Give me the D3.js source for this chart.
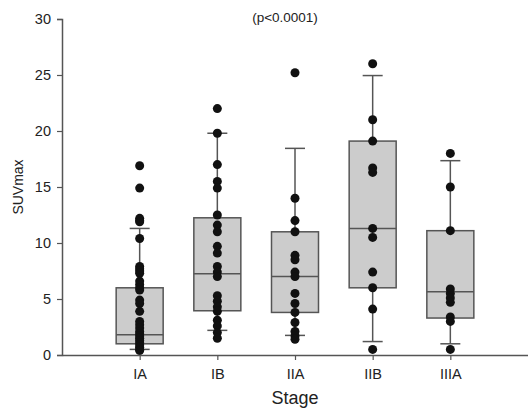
<!DOCTYPE html>
<html>
<head>
<meta charset="utf-8">
<script src="https://cdn.jsdelivr.net/npm/d3@7"></script>
<style>
  body { margin: 0; background: #fff; }
  #chart { width: 528px; height: 408px; }
  text { font-family: "Liberation Sans", Arial, sans-serif; fill: #222; }
</style>
</head>
<body>
<div id="chart"></div>
<script>
// Stages along the x axis
const stages = ['IA', 'IB', 'IIA', 'IIB', 'IIIA'];

// Individual SUVmax values per stage
const valuesIA = [16.9, 14.9, 12.2, 12.0, 11.9, 10.4, 7.9, 7.7, 7.5, 7.3, 6.6, 6.3, 6.0, 5.8,
  4.9, 4.6, 3.9, 3.0, 2.7, 2.4, 2.1, 1.9, 1.7, 1.5, 1.3, 1.1, 0.9, 0.7, 0.5, 0.4];
const valuesIB = [22.0, 19.8, 17.0, 15.5, 14.9, 12.5, 11.6, 11.0, 9.7, 9.1, 7.9, 7.4, 7.0,
  5.3, 4.8, 4.3, 3.9, 3.1, 2.6, 2.0, 1.5];
const valuesIIA = [25.2, 14.0, 12.0, 11.0, 8.9, 8.5, 7.4, 7.0, 5.5, 4.6, 3.8, 2.9, 2.1, 1.7, 1.4];
const valuesIIB = [26.0, 21.0, 19.1, 16.7, 16.3, 11.3, 10.5, 7.4, 6.0, 4.1, 0.5];
const valuesIIIA = [18.0, 15.0, 11.1, 5.9, 5.5, 5.1, 4.7, 3.4, 3.0, 0.5];

// Box statistics (whiskers = 10th / 90th percentiles)
const whiskerLow = [0.5, 2.2, 1.75, 1.2, 1.0];
const q1 = [1.0, 3.95, 3.8, 6.0, 3.3];
const medians = [1.8, 7.25, 7.0, 11.3, 5.65];
const q3 = [6.0, 12.25, 11.0, 19.1, 11.1];
const whiskerHigh = [11.3, 19.8, 18.45, 24.95, 17.35];

const yTicks = [0, 5, 10, 15, 20, 25, 30];
const pLabel = '(p<0.0001)';

const allValues = [valuesIA, valuesIB, valuesIIA, valuesIIB, valuesIIIA];

const width = 528, height = 408;
const margin = { top: 19, right: 0, bottom: 53, left: 62 };

const svg = d3.select('#chart')
  .append('svg')
  .attr('width', width)
  .attr('height', height);

const x = d3.scaleLinear()
  .domain([0, stages.length + 1])
  .range([margin.left, width - margin.right]);

const y = d3.scaleLinear()
  .domain([0, 30])
  .range([height - margin.bottom, margin.top]);

const boxW = 47;
const capW = 20;
const lineColor = '#555';

// boxes, whiskers
stages.forEach((s, i) => {
  const cx = x(i + 1);
  const g = svg.append('g');

  // whisker lines
  g.append('line')
    .attr('x1', cx).attr('x2', cx)
    .attr('y1', y(q3[i])).attr('y2', y(whiskerHigh[i]))
    .attr('stroke', lineColor).attr('stroke-width', 1.5);
  g.append('line')
    .attr('x1', cx).attr('x2', cx)
    .attr('y1', y(q1[i])).attr('y2', y(whiskerLow[i]))
    .attr('stroke', lineColor).attr('stroke-width', 1.5);

  // caps
  [whiskerHigh[i], whiskerLow[i]].forEach(v => {
    g.append('line')
      .attr('x1', cx - capW / 2).attr('x2', cx + capW / 2)
      .attr('y1', y(v)).attr('y2', y(v))
      .attr('stroke', lineColor).attr('stroke-width', 1.5);
  });

  g.append('rect')
    .attr('x', cx - boxW / 2)
    .attr('y', y(q3[i]))
    .attr('width', boxW)
    .attr('height', y(q1[i]) - y(q3[i]))
    .attr('fill', '#cccccc')
    .attr('stroke', lineColor)
    .attr('stroke-width', 1.5);

  g.append('line')
    .attr('x1', cx - boxW / 2).attr('x2', cx + boxW / 2)
    .attr('y1', y(medians[i])).attr('y2', y(medians[i]))
    .attr('stroke', lineColor).attr('stroke-width', 1.5);
});

// points
stages.forEach((s, i) => {
  svg.append('g')
    .selectAll('circle')
    .data(allValues[i])
    .enter()
    .append('circle')
    .attr('cx', x(i + 1))
    .attr('cy', d => y(d))
    .attr('r', 4.5)
    .attr('fill', '#111');
});

// Y axis
const yAxis = svg.append('g')
  .attr('transform', `translate(${margin.left},0)`)
  .call(d3.axisLeft(y).tickValues(yTicks).tickSize(5).tickPadding(6));
yAxis.select('.domain').attr('stroke', lineColor).attr('stroke-width', 1.5);
yAxis.selectAll('.tick line').attr('stroke', lineColor).attr('stroke-width', 1.2);
yAxis.selectAll('text')
  .attr('font-size', '14.5px')
  .attr('fill', '#222')
  .attr('font-family', '"Liberation Sans", Arial, sans-serif');

// X axis
const xAxis = svg.append('g')
  .attr('transform', `translate(0,${y(0)})`)
  .call(d3.axisBottom(x)
    .tickValues(d3.range(1, stages.length + 1))
    .tickFormat(d => stages[d - 1])
    .tickSize(5)
    .tickPadding(9)
    .tickSizeOuter(0));
xAxis.select('.domain').attr('stroke', lineColor).attr('stroke-width', 1.5);
xAxis.selectAll('.tick line').attr('stroke', lineColor).attr('stroke-width', 1.2);
xAxis.selectAll('text')
  .attr('font-size', '14.5px')
  .attr('fill', '#222')
  .attr('font-family', '"Liberation Sans", Arial, sans-serif');

// Axis titles
svg.append('text')
  .attr('x', (margin.left + width) / 2)
  .attr('y', 404)
  .attr('text-anchor', 'middle')
  .attr('font-size', '18px')
  .attr('fill', '#222')
  .text('Stage');

svg.append('text')
  .attr('transform', `translate(23,${y(15)}) rotate(-90)`)
  .attr('text-anchor', 'middle')
  .attr('font-size', '14px')
  .attr('fill', '#222')
  .text('SUVmax');

// p-value label
svg.append('text')
  .attr('x', 285)
  .attr('y', 22)
  .attr('text-anchor', 'middle')
  .attr('font-size', '13.5px')
  .attr('fill', '#222')
  .text(pLabel);
</script>
</body>
</html>
